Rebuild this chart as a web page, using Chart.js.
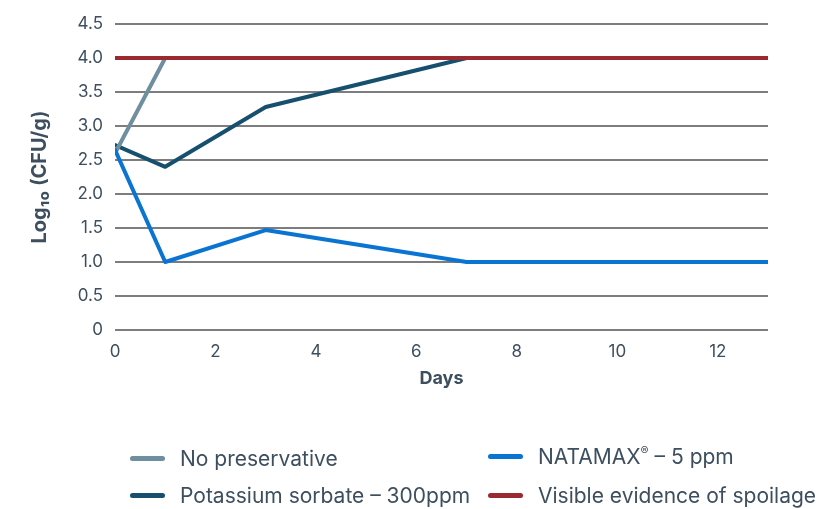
<!DOCTYPE html>
<html><head><meta charset="utf-8">
<script src="https://cdn.jsdelivr.net/npm/chart.js@4"></script>
<style>
html,body{margin:0;padding:0;background:#fff;}
#wrap{position:relative;width:818px;height:509px;font-family:Inter,"Noto Sans",sans-serif;}
#cbox{position:absolute;left:0;top:0;width:818px;height:400px;}
#legend{position:absolute;left:0;top:0;width:818px;height:509px;pointer-events:none;}
.li{position:absolute;display:flex;align-items:center;height:30px;font-size:21px;color:#3d4f5f;white-space:nowrap;}
.sw{width:35px;height:5px;border-radius:3px;margin-right:15px;}
.li sup{font-size:12px;vertical-align:9px;line-height:0;}
</style></head>
<body><div id="wrap"><div id="cbox"><canvas id="c"></canvas></div><div id="legend"></div></div>
<script>
const seriesLabels = ["No preservative", "NATAMAX\u00AE \u2013 5 ppm", "Potassium sorbate \u2013 300ppm", "Visible evidence of spoilage"];
const seriesColors = ["#6f8e9e", "#0a74d2", "#17506f", "#9b2a30"];
const noPresDays = [0, 1];
const noPresVals = [2.6, 4.0];
const natamaxDays = [0, 1, 3, 7, 13];
const natamaxVals = [2.65, 1.0, 1.47, 1.0, 1.0];
const sorbateDays = [0, 1, 3, 7];
const sorbateVals = [2.72, 2.4, 3.28, 4.0];
const spoilDays = [0, 13];
const spoilVals = [4.0, 4.0];
const yTicks = [0, 0.5, 1, 1.5, 2, 2.5, 3, 3.5, 4, 4.5];
const xTicks = [0, 2, 4, 6, 8, 10, 12];

const pts = (xs, ys) => xs.map((x, i) => ({x: x, y: ys[i]}));
const allData = [pts(noPresDays, noPresVals), pts(natamaxDays, natamaxVals), pts(sorbateDays, sorbateVals), pts(spoilDays, spoilVals)];
const orders = [2, 1, 3, 0];
const datasets = allData.map((d, i) => ({
  label: seriesLabels[i], data: d, borderColor: seriesColors[i], backgroundColor: seriesColors[i],
  borderWidth: 4, pointRadius: 0, pointHoverRadius: 0, tension: 0, order: orders[i],
  borderCapStyle: 'round', borderJoinStyle: 'round'
}));
const txt = '#3d4f5f';
const ff = 'Inter, "Noto Sans", sans-serif';
new Chart(document.getElementById('c'), {
  type: 'line',
  data: {datasets: datasets},
  options: {
    responsive: true, maintainAspectRatio: false, animation: false,
    layout: {padding: {top: 24, right: 50, left: 0, bottom: 0}},
    plugins: {legend: {display: false}, tooltip: {enabled: false}},
    scales: {
      x: {type: 'linear', min: 0, max: 13,
        afterBuildTicks: s => { s.ticks = xTicks.map(v => ({value: v})); },
        ticks: {color: txt, font: {family: ff, size: 17}, padding: 12, maxRotation: 0},
        grid: {display: false, drawTicks: false}, border: {display: false},
        title: {display: true, text: 'Days', color: txt, font: {family: ff, size: 18, weight: 'bold'}, padding: {top: 4, bottom: 11}},
        afterFit: s => { s.height = 70; }
      },
      y: {min: 0, max: 4.5,
        afterBuildTicks: s => { s.ticks = yTicks.map(v => ({value: v})); },
        ticks: {color: txt, font: {family: ff, size: 17}, padding: 12, callback: v => v === 0 ? '0' : v.toFixed(1)},
        grid: {color: '#7d7d7d', lineWidth: 2, drawTicks: false}, border: {display: false},
        title: {display: true, text: 'Log\u2081\u2080 (CFU/g)', color: txt, font: {family: ff, size: 20, weight: 'bold'}, padding: {top: 28, bottom: 0}},
        afterFit: s => { s.width = 115; }
      }
    }
  }
});
const pos = {0: [130, 458], 2: [130, 495], 1: [488, 456], 3: [488, 495]};
const leg = document.getElementById('legend');
[0, 2, 1, 3].forEach(i => {
  const d = document.createElement('div');
  d.className = 'li';
  d.style.left = pos[i][0] + 'px'; d.style.top = (pos[i][1] - 15) + 'px';
  const sw = document.createElement('span');
  sw.className = 'sw'; sw.style.background = seriesColors[i];
  d.appendChild(sw);
  const t = document.createElement('span');
  const parts = seriesLabels[i].split('\u00AE');
  parts.forEach((p, k) => {
    t.appendChild(document.createTextNode(p));
    if (k < parts.length - 1) { const s = document.createElement('sup'); s.textContent = '\u00AE'; t.appendChild(s); }
  });
  d.appendChild(t);
  leg.appendChild(d);
});
</script></body></html>
